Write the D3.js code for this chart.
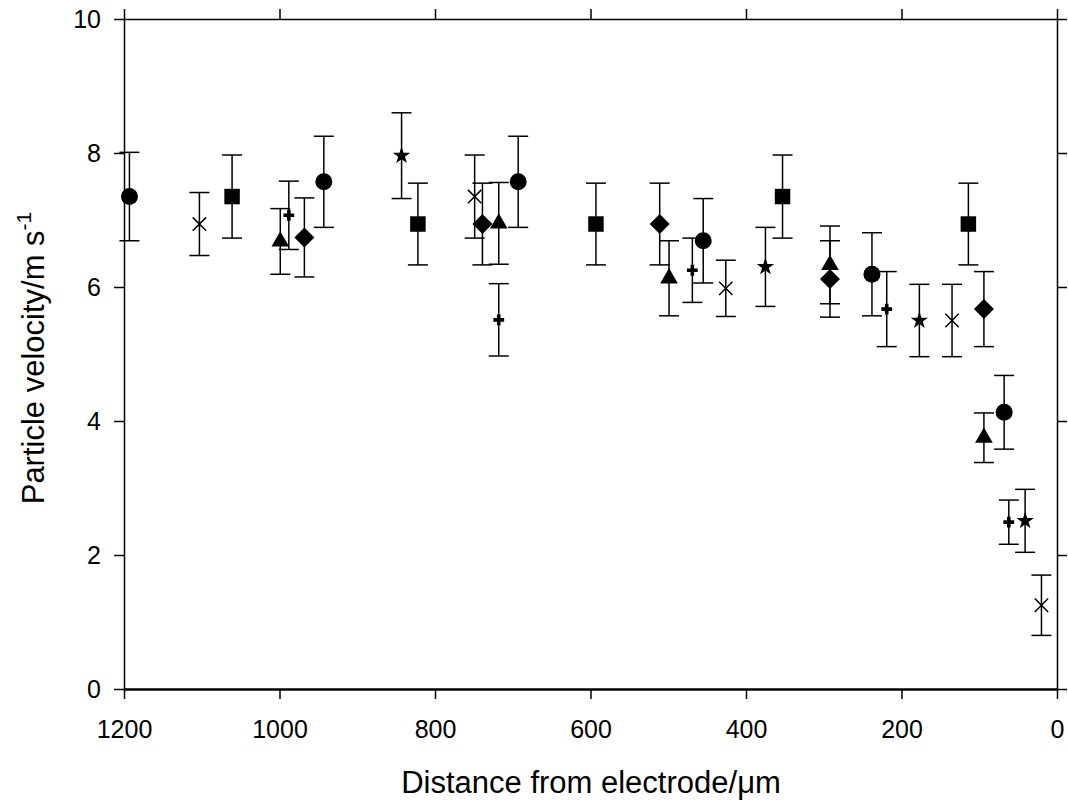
<!DOCTYPE html>
<html>
<head>
<meta charset="utf-8">
<script src="https://cdn.jsdelivr.net/npm/d3@7"></script>
<style>
  body { margin: 0; background: #fff; }
  text { font-family: "Liberation Sans", Arial, sans-serif; }
</style>
</head>
<body>
<div id="chart"></div>
<script>
// series data: distance (um), velocity (m/s), error (+/-)
var circleX = [1193, 943, 693, 455, 238, 68];
var circleY = [7.35, 7.57, 7.57, 6.69, 6.19, 4.13];
var circleE = [0.66, 0.68, 0.68, 0.63, 0.62, 0.55];

var crossX = [1103, 749, 426, 135, 20];
var crossY = [6.94, 7.35, 5.98, 5.50, 1.25];
var crossE = [0.47, 0.62, 0.42, 0.54, 0.45];

var squareX = [1061, 822, 593, 353, 114];
var squareY = [7.35, 6.94, 6.94, 7.35, 6.94];
var squareE = [0.62, 0.61, 0.61, 0.62, 0.61];

var triangleX = [999, 718, 499, 292, 94];
var triangleY = [6.68, 6.95, 6.13, 6.33, 3.75];
var triangleE = [0.49, 0.61, 0.56, 0.58, 0.37];

var plusX = [988, 718, 469, 219, 62];
var plusY = [7.07, 5.51, 6.25, 5.67, 2.49];
var plusE = [0.51, 0.54, 0.48, 0.56, 0.33];

var diamondX = [968, 739, 511, 292, 94];
var diamondY = [6.74, 6.94, 6.94, 6.12, 5.67];
var diamondE = [0.59, 0.61, 0.61, 0.57, 0.56];

var starX = [843, 375, 177, 41];
var starY = [7.96, 6.30, 5.50, 2.51];
var starE = [0.64, 0.59, 0.54, 0.47];

var xTicks = [1200, 1000, 800, 600, 400, 200, 0];
var yTicks = [0, 2, 4, 6, 8, 10];

var width = 1068, height = 803;
var margin = {top: 19, right: 11, bottom: 114, left: 124};
var area_width = width - margin.left - margin.right;
var area_height = height - margin.top - margin.bottom;

var svg = d3.select('#chart').append('svg')
	.attr('width', width).attr('height', height);
var g = svg.append('g').attr('transform', `translate(${margin.left},${margin.top})`);

// reversed x axis: 1200 on the left, 0 on the right
var x = d3.scaleLinear().domain([1200, 0]).range([0, area_width]);
var y = d3.scaleLinear().domain([0, 10]).range([area_height, 0]);

// axes: labels only on bottom and left, ticks pointing outwards
var axBottom = g.append('g').attr('transform', `translate(0,${area_height})`)
	.call(d3.axisBottom(x).tickValues(xTicks).tickFormat(d3.format('d')).tickSize(10).tickPadding(21).tickSizeOuter(0));
var axLeft = g.append('g')
	.call(d3.axisLeft(y).tickValues(yTicks).tickFormat(d3.format('d')).tickSize(10).tickPadding(13).tickSizeOuter(0));
var axTop = g.append('g')
	.call(d3.axisTop(x).tickValues(xTicks).tickSize(10).tickFormat('').tickSizeOuter(0));
var axRight = g.append('g').attr('transform', `translate(${area_width},0)`)
	.call(d3.axisRight(y).tickValues(yTicks).tickSize(10).tickFormat('').tickSizeOuter(0));

[axBottom, axLeft, axTop, axRight].forEach(function(a) {
	a.selectAll('path').attr('stroke', '#000').attr('stroke-width', 1.5);
	a.selectAll('line').attr('stroke', '#000').attr('stroke-width', 1.5);
	a.selectAll('text').attr('font-size', 25).attr('fill', '#000')
		.style('font-family', '"Liberation Sans", Arial, sans-serif');
});
axBottom.select('path').attr('stroke-width', 2.5);

// diamond = square turned 45 degrees
var symbolDiamondSq = {
	draw: function(ctx, size) {
		var r = Math.sqrt(size) / 2 * Math.SQRT2;
		ctx.moveTo(0, -r); ctx.lineTo(r, 0); ctx.lineTo(0, r); ctx.lineTo(-r, 0); ctx.closePath();
	}
};

var series = [
	{xs: circleX, ys: circleY, es: circleE, type: d3.symbolCircle, size: 227, fill: true},
	{xs: crossX, ys: crossY, es: crossE, type: d3.symbolTimes, size: 118, fill: false},
	{xs: squareX, ys: squareY, es: squareE, type: d3.symbolSquare, size: 240, fill: true},
	{xs: triangleX, ys: triangleY, es: triangleE, type: d3.symbolTriangle, size: 135, fill: true},
	{xs: plusX, ys: plusY, es: plusE, type: d3.symbolCross, size: 65, fill: true},
	{xs: diamondX, ys: diamondY, es: diamondE, type: symbolDiamondSq, size: 200, fill: true},
	{xs: starX, ys: starY, es: starE, type: d3.symbolStar, size: 95, fill: true}
];

var cap = 10;
var marks = g.append('g');
series.forEach(function(s) {
	var pts = s.xs.map(function(d, i) { return {x: d, y: s.ys[i], e: s.es[i]}; });
	var eb = marks.append('g').selectAll('g').data(pts).enter().append('g')
		.attr('stroke', '#000').attr('stroke-width', 1.5);
	eb.append('line')
		.attr('x1', d => x(d.x)).attr('x2', d => x(d.x))
		.attr('y1', d => y(d.y + d.e)).attr('y2', d => y(d.y - d.e));
	eb.append('line')
		.attr('x1', d => x(d.x) - cap).attr('x2', d => x(d.x) + cap)
		.attr('y1', d => y(d.y + d.e)).attr('y2', d => y(d.y + d.e));
	eb.append('line')
		.attr('x1', d => x(d.x) - cap).attr('x2', d => x(d.x) + cap)
		.attr('y1', d => y(d.y - d.e)).attr('y2', d => y(d.y - d.e));

	marks.append('g').selectAll('path').data(pts).enter().append('path')
		.attr('d', d3.symbol().type(s.type).size(s.size))
		.attr('transform', d => `translate(${x(d.x)},${y(d.y)})`)
		.attr('fill', s.fill ? '#000' : 'none')
		.attr('stroke', '#000')
		.attr('stroke-width', s.fill ? 0 : 1.5);
});

// axis titles
svg.append('text')
	.attr('x', 591)
	.attr('y', 793)
	.attr('text-anchor', 'middle')
	.attr('font-size', 31)
	.text('Distance from electrode/μm');

var yt = svg.append('text')
	.attr('transform', `translate(44,358) rotate(-90)`)
	.attr('text-anchor', 'middle')
	.attr('font-size', 31);
yt.append('tspan').text('Particle velocity/m s');
yt.append('tspan').attr('dy', -13).attr('font-size', 21).text('-1');
</script>
</body>
</html>
